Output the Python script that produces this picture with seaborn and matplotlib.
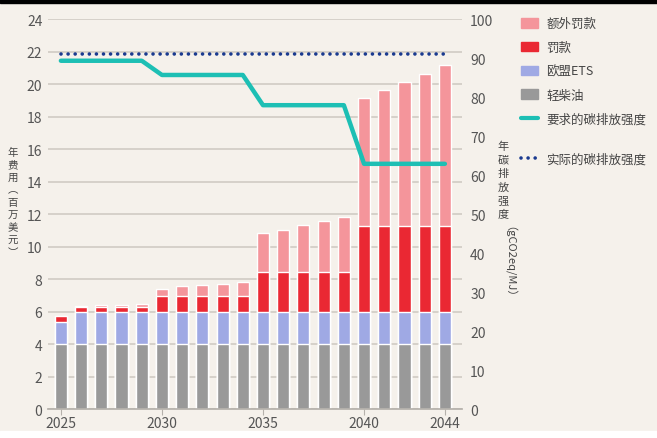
import numpy as np
import pandas as pd
import matplotlib.pyplot as plt
import matplotlib.patches as mpatches
from matplotlib.lines import Line2D
import seaborn as sns

sns.set_theme(style="white")
plt.rcParams["font.family"] = ["Noto Sans CJK SC", "DejaVu Sans"]

# -----------------------------
# Data
# -----------------------------
years = [2025, 2026, 2027, 2028, 2029, 2030, 2031, 2032, 2033, 2034,
         2035, 2036, 2037, 2038, 2039, 2040, 2041, 2042, 2043, 2044]
diesel = [4.0, 4.0, 4.0, 4.0, 4.0, 4.0, 4.0, 4.0, 4.0, 4.0,
          4.0, 4.0, 4.0, 4.0, 4.0, 4.0, 4.0, 4.0, 4.0, 4.0]
ets = [1.35, 2.0, 2.0, 2.0, 2.0, 2.0, 2.0, 2.0, 2.0, 2.0,
       2.0, 2.0, 2.0, 2.0, 2.0, 2.0, 2.0, 2.0, 2.0, 2.0]
penalty = [0.35, 0.3, 0.3, 0.3, 0.3, 0.95, 0.95, 0.95, 0.95, 0.95,
           2.45, 2.45, 2.45, 2.45, 2.45, 5.25, 5.25, 5.25, 5.25, 5.25]
extra = [0.0, 0.05, 0.08, 0.1, 0.15, 0.45, 0.6, 0.7, 0.75, 0.85,
         2.4, 2.6, 2.9, 3.1, 3.35, 7.9, 8.4, 8.9, 9.4, 9.9]
required = [89.34, 89.34, 89.34, 89.34, 89.34, 85.69, 85.69, 85.69, 85.69, 85.69,
            77.94, 77.94, 77.94, 77.94, 77.94, 62.9, 62.9, 62.9, 62.9, 62.9]
actual = [91.16] * 20

labels = ["额外罚款", "罚款", "欧盟ETS", "轻柴油"]
colors = ["#f4959b", "#ea2833", "#9fa9e4", "#999999"]
line_labels = ["要求的碳排放强度", "实际的碳排放强度"]
left_title = ["年", "费", "用", "︵", "百", "万", "美", "元", "︶"]
right_title = ["年", "碳", "排", "放", "强", "度"]
right_unit = "（gCO2eq/MJ）"

df = pd.DataFrame({"year": years, "diesel": diesel, "ets": ets,
                   "penalty": penalty, "extra": extra,
                   "required": required, "actual": actual})
df["c1"] = df["diesel"]
df["c2"] = df["c1"] + df["ets"]
df["c3"] = df["c2"] + df["penalty"]
df["c4"] = df["c3"] + df["extra"]

BG = "#f5f1eb"
TXT = "#444444"

# -----------------------------
# Layout
# -----------------------------
fig = plt.figure(figsize=(6.57, 4.39), dpi=100, facecolor=BG)
ax = fig.add_axes([0.073, 0.066, 0.630, 0.888])
ax.set_facecolor(BG)

# stacked bars by overlapping cumulative totals
for col, c in zip(["c4", "c3", "c2", "c1"], colors):
    sns.barplot(data=df, x="year", y=col, color=c, width=0.6,
                saturation=1, native_scale=True, ax=ax)

ax.set_ylim(0, 24)
ax.set_yticks(range(0, 25, 2))
ax.set_xlim(2024.36, 2044.84)
ax.set_xticks([2025, 2030, 2035, 2040, 2044])
ax.set_xticklabels(["2025", "2030", "2035", "2040", "2044"])
ax.set_xlabel("")
ax.set_ylabel("")
ax.yaxis.grid(True, color="#d3cec7", lw=1.3)
ax.set_axisbelow(True)
for s in ["top", "right", "left"]:
    ax.spines[s].set_visible(False)
ax.spines["bottom"].set_color("#b5b1ab")
ax.tick_params(axis="y", length=0, pad=4, labelsize=10, labelcolor="#555555")
ax.tick_params(axis="x", length=4, width=0.8, color="#b5b1ab", pad=1,
               labelsize=10, labelcolor="#555555", bottom=True)

# -----------------------------
# Intensity lines (right axis)
# -----------------------------
ax2 = ax.twinx()
sns.lineplot(data=df, x="year", y="required", color="#1dbfb4", lw=3.2, ax=ax2)
sns.lineplot(data=df, x="year", y="actual", color="#1a3a8f", lw=2.6,
             linestyle=(0, (0.01, 1.95)), dash_capstyle="round", ax=ax2)
ax2.set_ylim(0, 100)
ax2.set_yticks(range(0, 101, 10))
ax2.set_xlim(2024.36, 2044.84)
ax2.set_ylabel("")
ax2.set_xlabel("")
for s in ["top", "right", "left", "bottom"]:
    ax2.spines[s].set_visible(False)
ax2.tick_params(axis="y", length=0, pad=6, labelsize=10, labelcolor="#555555")

# -----------------------------
# Axis titles (vertical CJK, one glyph per line)
# -----------------------------
for i, ch in enumerate(left_title):
    fig.text(13 / 657, 1 - (153 + i * 12.5) / 439, ch, ha="center", va="center",
             fontsize=7.5, color=TXT)
for i, ch in enumerate(right_title):
    fig.text(503 / 657, 1 - (147 + i * 13.6) / 439, ch, ha="center", va="center",
             fontsize=8, color=TXT)
fig.text(503 / 657, 1 - 226 / 439, right_unit, ha="center", va="top",
         rotation=270, fontsize=8, color=TXT)

# -----------------------------
# Legend
# -----------------------------
handles = [mpatches.Patch(color=c, label=l) for c, l in zip(colors, labels)]
handles.append(Line2D([], [], color="#1dbfb4", lw=3, label=line_labels[0]))
fig.legend(handles=handles, loc="upper left", bbox_to_anchor=(0.776, 0.984),
           frameon=False, fontsize=9, labelspacing=0.86, handlelength=1.36,
           handleheight=0.8, handletextpad=0.64, labelcolor=TXT)
dot = Line2D([], [], color="#1a3a8f", lw=2.6, linestyle=(0, (0.01, 1.95)),
             dash_capstyle="round", label=line_labels[1])
fig.legend(handles=[dot], loc="upper left", bbox_to_anchor=(0.776, 0.676),
           frameon=False, fontsize=9, handlelength=1.36, handletextpad=0.64,
           labelcolor=TXT)

# frame strips
fig.patches.append(mpatches.Rectangle((0, 1 - 4 / 439), 1, 4 / 439, color="black",
                                      transform=fig.transFigure, zorder=5))
fig.patches.append(mpatches.Rectangle((0, 0), 1, 7 / 439, color="white",
                                      transform=fig.transFigure, zorder=5))

fig.savefig("out.png", dpi=100, facecolor=BG)
